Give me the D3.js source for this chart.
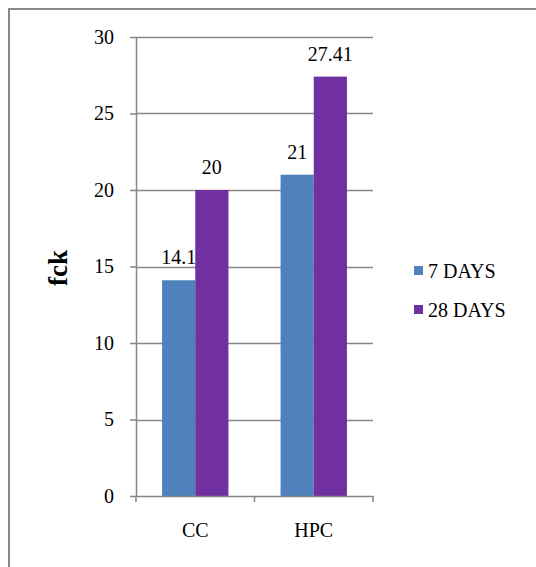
<!DOCTYPE html>
<html>
<head>
<meta charset="utf-8">
<script src="https://cdn.jsdelivr.net/npm/d3@7"></script>
<style>
  html, body { margin: 0; padding: 0; background: #fff; }
  svg { display: block; font-family: "Liberation Serif", "Times New Roman", serif; }
</style>
</head>
<body>
<svg id="chart" width="536" height="567"></svg>
<script>
// Compressive strength (fck) of conventional and high-performance concrete
const categories = ["CC", "HPC"];
const seriesNames = ["7 DAYS", "28 DAYS"];
const days7 = [14.1, 21];
const days28 = [20, 27.41];
const valueLabels7 = ["14.1", "21"];
const valueLabels28 = ["20", "27.41"];
const yTicks = [0, 5, 10, 15, 20, 25, 30];
const colors = ["#4F81BD", "#7030A0"];

const series = [
  { name: seriesNames[0], values: days7, labels: valueLabels7, color: colors[0] },
  { name: seriesNames[1], values: days28, labels: valueLabels28, color: colors[1] }
];

const serif = "Liberation Serif, Times New Roman, serif";
const svg = d3.select("#chart");
const axisColor = "#868686";

// outer frame (top and left edges)
svg.append("path")
  .attr("d", "M9,567 V9 H536")
  .attr("fill", "none")
  .attr("stroke", "#888")
  .attr("stroke-width", 2);

const plot = { left: 136, right: 373, top: 37, bottom: 496 };

const x = d3.scaleBand().domain(categories).range([plot.left, plot.right]).paddingInner(0).paddingOuter(0);
const y = d3.scaleLinear().domain([0, 30]).range([plot.bottom, plot.top]);

const groupFrac = 0.56;
const xInner = d3.scaleBand().domain(seriesNames)
  .range([0, x.bandwidth() * groupFrac]);
const groupOffset = x.bandwidth() * (1 - groupFrac) / 2;

// gridlines
svg.append("g").selectAll("line").data(yTicks.filter(t => t > 0)).join("line")
  .attr("x1", plot.left).attr("x2", plot.right)
  .attr("y1", d => Math.round(y(d)) + 0.5).attr("y2", d => Math.round(y(d)) + 0.5)
  .attr("stroke", axisColor).attr("stroke-width", 1.5);

// y axis
const yAxis = svg.append("g")
  .attr("transform", `translate(${plot.left},0)`)
  .call(d3.axisLeft(y).tickValues(yTicks).tickSize(6).tickPadding(16).tickSizeOuter(0));
yAxis.attr("font-family", serif);
yAxis.select(".domain").attr("stroke", axisColor).attr("stroke-width", 1.5);
yAxis.selectAll(".tick line").attr("stroke", axisColor).attr("stroke-width", 1.5);
yAxis.selectAll(".tick text")
  .attr("font-family", serif)
  .attr("font-size", 20).attr("fill", "#000");

// bars and value labels
series.forEach((s) => {
  svg.append("g").selectAll("rect").data(categories).join("rect")
    .attr("x", (c) => x(c) + groupOffset + xInner(s.name))
    .attr("width", xInner.bandwidth())
    .attr("y", (c, i) => y(s.values[i]))
    .attr("height", (c, i) => y(0) - y(s.values[i]))
    .attr("fill", s.color);
  svg.append("g").selectAll("text").data(categories).join("text")
    .attr("x", (c) => x(c) + groupOffset + xInner(s.name) + xInner.bandwidth() / 2)
    .attr("y", (c, i) => y(s.values[i]) - 16)
    .attr("text-anchor", "middle")
    .attr("font-family", serif)
    .attr("font-size", 20).attr("fill", "#000")
    .text((c, i) => s.labels[i]);
});

// x axis
const xAxis = svg.append("g")
  .attr("transform", `translate(0,${plot.bottom})`)
  .call(d3.axisBottom(x).tickSize(0).tickPadding(27).tickSizeOuter(0));
xAxis.attr("font-family", serif);
xAxis.select(".domain").attr("stroke", axisColor).attr("stroke-width", 1.5);
xAxis.selectAll(".tick text")
  .attr("font-family", serif)
  .attr("font-size", 20).attr("fill", "#000");
// category boundary ticks
const boundaries = [plot.left, x(categories[1]), plot.right];
xAxis.append("g").selectAll("line").data(boundaries).join("line")
  .attr("x1", d => d).attr("x2", d => d)
  .attr("y1", 0).attr("y2", 6)
  .attr("stroke", axisColor).attr("stroke-width", 1.5);

// y axis title
svg.append("text")
  .attr("transform", `translate(67,268) rotate(-90)`)
  .attr("text-anchor", "middle")
  .attr("font-family", serif)
  .attr("font-size", 27).attr("font-weight", "bold").attr("fill", "#000")
  .text("fck");

// legend
const legend = svg.append("g").attr("transform", "translate(414,266)");
series.forEach((s, i) => {
  const g = legend.append("g").attr("transform", `translate(0,${i * 39})`);
  g.append("rect").attr("width", 9).attr("height", 9).attr("fill", s.color);
  g.append("text").attr("x", 14).attr("y", 12)
    .attr("font-family", serif)
    .attr("font-size", 20).attr("fill", "#000").text(s.name);
});
</script>
</body>
</html>
